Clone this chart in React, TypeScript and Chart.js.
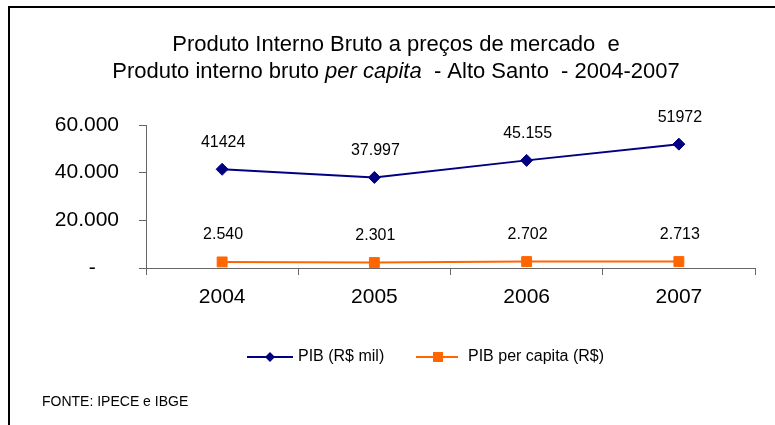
import React, { useEffect, useRef } from 'react';
import { Chart, registerables } from 'chart.js';

Chart.register(...registerables);

const years = ['2004', '2005', '2006', '2007'];
const pib = [41424, 37997, 45155, 51972];
const pibPerCapita = [2540, 2301, 2702, 2713];
const pibLabels = ['41424', '37.997', '45.155', '51972'];
const perCapitaLabels = ['2.540', '2.301', '2.702', '2.713'];
const yTickLabels = ['-', '20.000', '40.000', '60.000'];
const seriesNames = ['PIB (R$ mil)', 'PIB per capita (R$)'];
const titleLine1 = 'Produto Interno Bruto a preços de mercado  e';
const titleLine2a = 'Produto interno bruto ';
const titleLine2b = 'per capita';
const titleLine2c = '  - Alto Santo  - 2004-2007';
const sourceText = 'FONTE: IPECE e IBGE';

const FONT = '"Liberation Sans", Arial, sans-serif';
const NAVY = '#000080';
const ORANGE = '#FF6600';

const overlay = {
  id: 'overlay',
  afterDatasetsDraw(chart: any) {
    const ctx = chart.ctx;
    ctx.save();
    ctx.font = `16px ${FONT}`;
    ctx.fillStyle = '#000';
    ctx.textAlign = 'center';
    ctx.textBaseline = 'middle';
    const lbls = [pibLabels, perCapitaLabels];
    chart.data.datasets.forEach((_: any, i: number) => {
      const meta = chart.getDatasetMeta(i);
      meta.data.forEach((pt: any, j: number) => {
        ctx.fillText(lbls[i][j], pt.x + 1, pt.y - 27);
      });
    });
    ctx.restore();
  },
  afterDraw(chart: any) {
    const ctx = chart.ctx;
    ctx.save();
    // frame
    ctx.strokeStyle = '#000';
    ctx.lineWidth = 2;
    ctx.beginPath();
    ctx.moveTo(9, 425);
    ctx.lineTo(9, 7);
    ctx.lineTo(775, 7);
    ctx.stroke();

    // title
    ctx.fillStyle = '#000';
    ctx.textBaseline = 'middle';
    ctx.textAlign = 'center';
    ctx.font = `22px ${FONT}`;
    const cx = 396;
    ctx.fillText(titleLine1, cx, 45);
    ctx.textAlign = 'left';
    const normal = `22px ${FONT}`;
    const italic = `italic 22px ${FONT}`;
    ctx.font = normal;
    const wa = ctx.measureText(titleLine2a).width;
    const wc = ctx.measureText(titleLine2c).width;
    ctx.font = italic;
    const wb = ctx.measureText(titleLine2b).width;
    let x = cx - (wa + wb + wc) / 2;
    ctx.font = normal;
    ctx.fillText(titleLine2a, x, 72);
    x += wa;
    ctx.font = italic;
    ctx.fillText(titleLine2b, x, 72);
    x += wb;
    ctx.font = normal;
    ctx.fillText(titleLine2c, x, 72);

    // legend
    const ly = 357;
    ctx.lineWidth = 2;
    ctx.strokeStyle = NAVY;
    ctx.beginPath();
    ctx.moveTo(247, ly);
    ctx.lineTo(293, ly);
    ctx.stroke();
    ctx.fillStyle = NAVY;
    ctx.beginPath();
    ctx.moveTo(270, ly - 5);
    ctx.lineTo(275, ly);
    ctx.lineTo(270, ly + 5);
    ctx.lineTo(265, ly);
    ctx.closePath();
    ctx.fill();
    ctx.strokeStyle = ORANGE;
    ctx.beginPath();
    ctx.moveTo(416, ly);
    ctx.lineTo(458, ly);
    ctx.stroke();
    ctx.fillStyle = ORANGE;
    ctx.fillRect(433, ly - 5, 10, 10);
    ctx.fillStyle = '#000';
    ctx.font = `16px ${FONT}`;
    ctx.fillText(seriesNames[0], 298, ly);
    ctx.fillText(seriesNames[1], 468, ly);

    // source
    ctx.font = `14px ${FONT}`;
    ctx.fillText(sourceText, 42, 402);
    ctx.restore();
  },
};

export default function App() {
  const ref = useRef<HTMLCanvasElement | null>(null);
  useEffect(() => {
    document.body.style.margin = '0';
    const canvas = ref.current!;
    const chart = new Chart(canvas, {
      type: 'line',
      data: {
        labels: years,
        datasets: [
          {
            label: seriesNames[0],
            data: pib,
            borderColor: NAVY,
            backgroundColor: NAVY,
            borderWidth: 2,
            pointStyle: 'rectRot',
            pointRadius: 6,
            pointBorderWidth: 1,
            pointBackgroundColor: NAVY,
            pointBorderColor: NAVY,
            tension: 0,
          },
          {
            label: seriesNames[1],
            data: pibPerCapita,
            borderColor: ORANGE,
            backgroundColor: ORANGE,
            borderWidth: 2,
            pointStyle: 'rect',
            pointRadius: 7,
            pointBorderWidth: 1,
            pointBackgroundColor: ORANGE,
            pointBorderColor: ORANGE,
            tension: 0,
          },
        ],
      },
      options: {
        responsive: false,
        animation: false,
        devicePixelRatio: 1,
        layout: { padding: { left: 0, top: 125, right: 20, bottom: 117 } },
        plugins: {
          legend: { display: false },
          title: { display: false },
          tooltip: { enabled: false },
        },
        scales: {
          x: {
            type: 'category',
            offset: true,
            afterFit: (s: any) => { s.height = 40; },
            grid: {
              offset: true,
              drawOnChartArea: false,
              drawTicks: true,
              tickLength: 7,
              color: '#666',
            },
            border: { color: '#666', width: 1 },
            ticks: {
              color: '#000',
              font: { family: FONT, size: 21 },
              padding: 10,
              maxRotation: 0,
            },
          },
          y: {
            min: 0,
            max: 60000,
            afterFit: (s: any) => { s.width = 146; },
            grid: {
              drawOnChartArea: false,
              drawTicks: true,
              tickLength: 7,
              color: '#666',
            },
            border: { color: '#666', width: 1 },
            ticks: {
              stepSize: 20000,
              color: '#000',
              padding: 20,
              font: { family: FONT, size: 21 },
              callback: (_v: any, i: number) => (i === 0 ? yTickLabels[0] + '    ' : yTickLabels[i]),
            },
          },
        },
      },
      plugins: [overlay],
    });
    return () => chart.destroy();
  }, []);
  return (
    <div style={{ position: 'absolute', left: 0, top: 0, width: 775, height: 425, background: '#fff' }}>
      <canvas ref={ref} width={775} height={425} style={{ display: 'block' }} />
    </div>
  );
}
